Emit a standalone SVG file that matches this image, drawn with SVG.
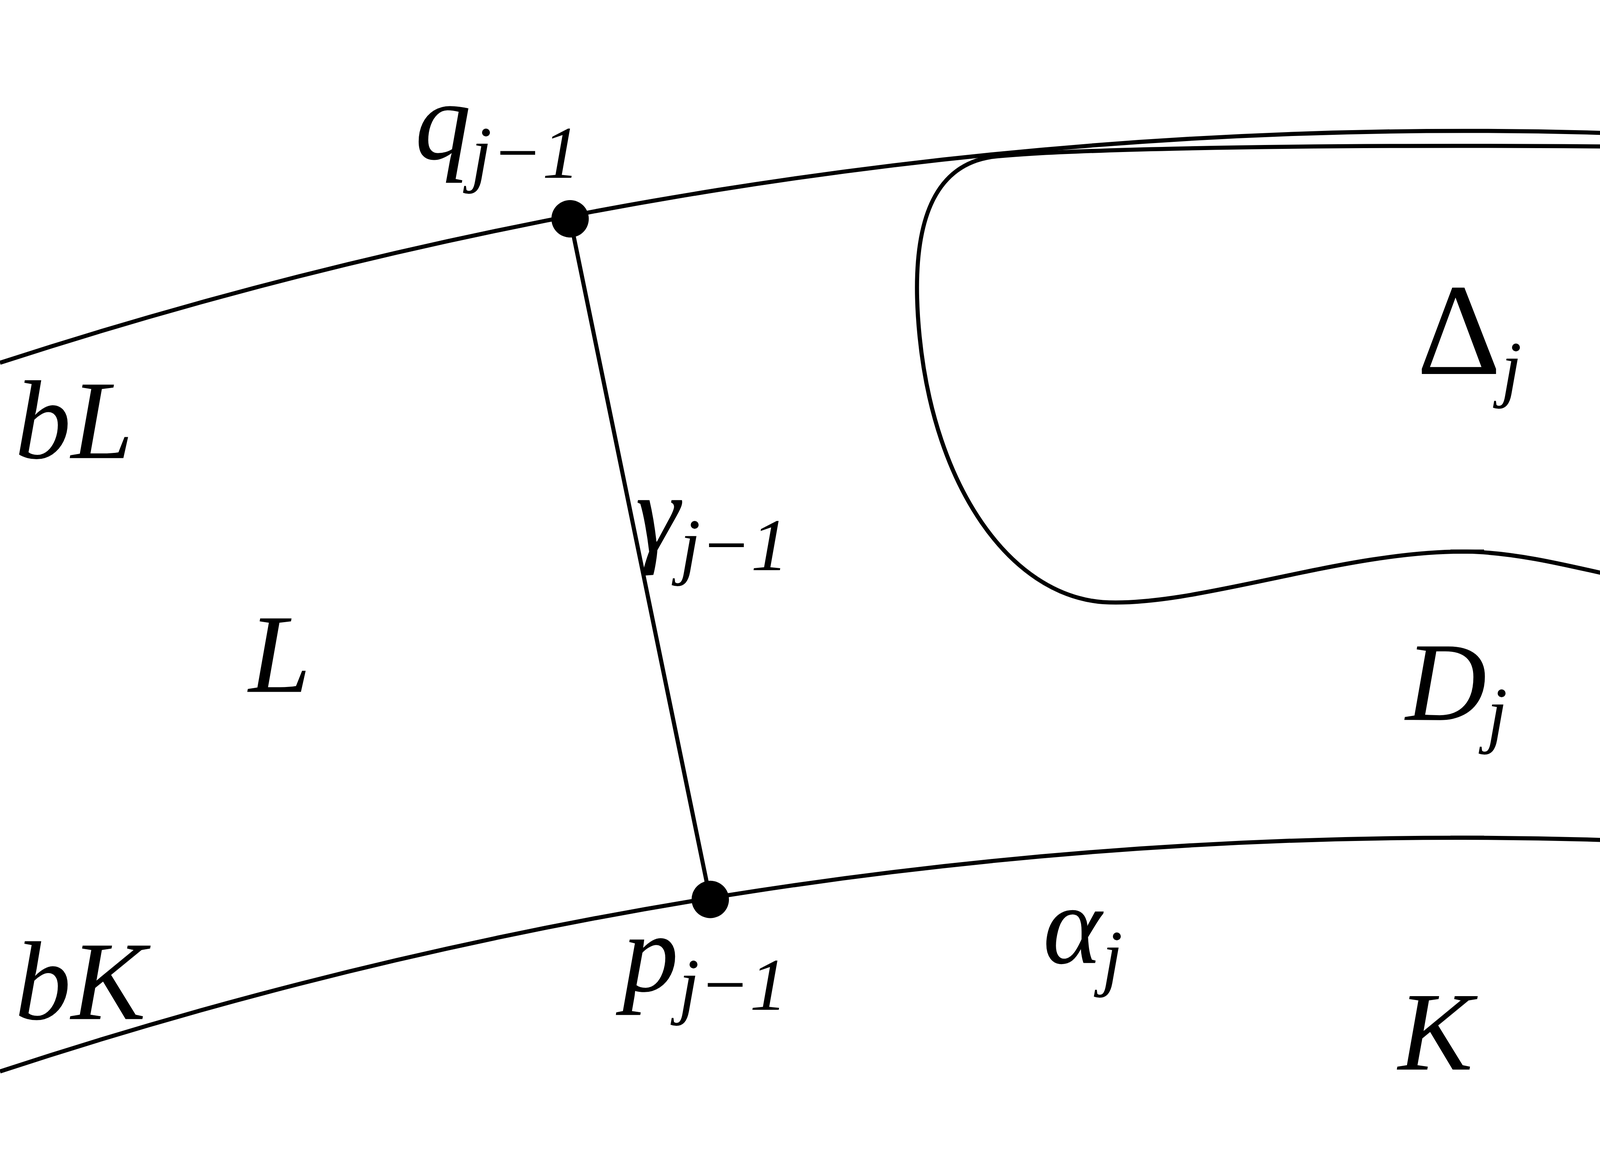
<svg xmlns="http://www.w3.org/2000/svg" width="7503" height="2953" viewBox="0 0 7503 2953">
<style>
.c{fill:none;stroke:#000;stroke-width:2.2}
.t{font-family:"Liberation Serif",serif;font-style:italic;font-size:60px;fill:#000}
.s{font-size:40px}
</style>
<rect width="7503" height="2953" fill="#fff"/>
<g transform="scale(4.785)">
<g id="connectors">
<path id="bL" class="c" d="M0,194 A2534,2534 0 0 1 1566,194"/>
<path id="bK" class="c" d="M0,573 A2496,2496 0 0 1 1566,575"/>
<line class="c" x1="305" y1="117" x2="380" y2="481"/>
<line class="c" x1="1260" y1="117" x2="1187" y2="481"/>
</g>
<g id="Delta">
<path class="c" d="M530,84 C600,76 960,76 1030,84 C1085,95 1080,140 1075,170 C1065,260 1040,320 975,322 C900,325 840,296 785,295 C720,294 640,325 590,322 C540,318 500,260 492,180 C485,110 505,88 530,84 Z"/>
<line class="c" x1="776" y1="295" x2="794" y2="295"/>
<line class="c" x1="776" y1="448" x2="794" y2="448"/>
</g>
<g id="points" fill="#000">
<circle cx="305" cy="117" r="10"/><circle cx="1260" cy="117" r="10"/>
<circle cx="380" cy="481" r="10"/><circle cx="1187" cy="481" r="10"/>
</g>
<g id="labels">
<text class="t" x="222" y="85">q<tspan class="s" dy="10">j−1</tspan></text>
<text class="t" x="988" y="62">β<tspan class="s" dy="10">j</tspan></text>
<text class="t" x="1262" y="85">q<tspan class="s" dy="10">j</tspan></text>
<text class="t" x="8" y="245">bL</text>
<text class="t" x="340" y="295">γ<tspan class="s" dy="10">j−1</tspan></text>
<text class="t" x="758" y="200" style="font-style:normal;font-size:70px">Δ<tspan class="s" dy="10" style="font-style:italic">j</tspan></text>
<text class="t" x="1240" y="268">γ<tspan class="s" dy="10">j</tspan></text>
<text class="t" x="133" y="370">L</text>
<text class="t" x="752" y="385">D<tspan class="s" dy="10">j</tspan></text>
<text class="t" x="1498" y="370">L</text>
<text class="t" x="8" y="545">bK</text>
<text class="t" x="333" y="530">p<tspan class="s" dy="10">j−1</tspan></text>
<text class="t" x="558" y="515">α<tspan class="s" dy="10">j</tspan></text>
<text class="t" x="748" y="572">K</text>
<text class="t" x="1138" y="530">p<tspan class="s" dy="10">j</tspan></text>
<text class="t" x="1388" y="592">α<tspan class="s" dy="10">j+1</tspan></text>
</g>
</g>
</svg>
